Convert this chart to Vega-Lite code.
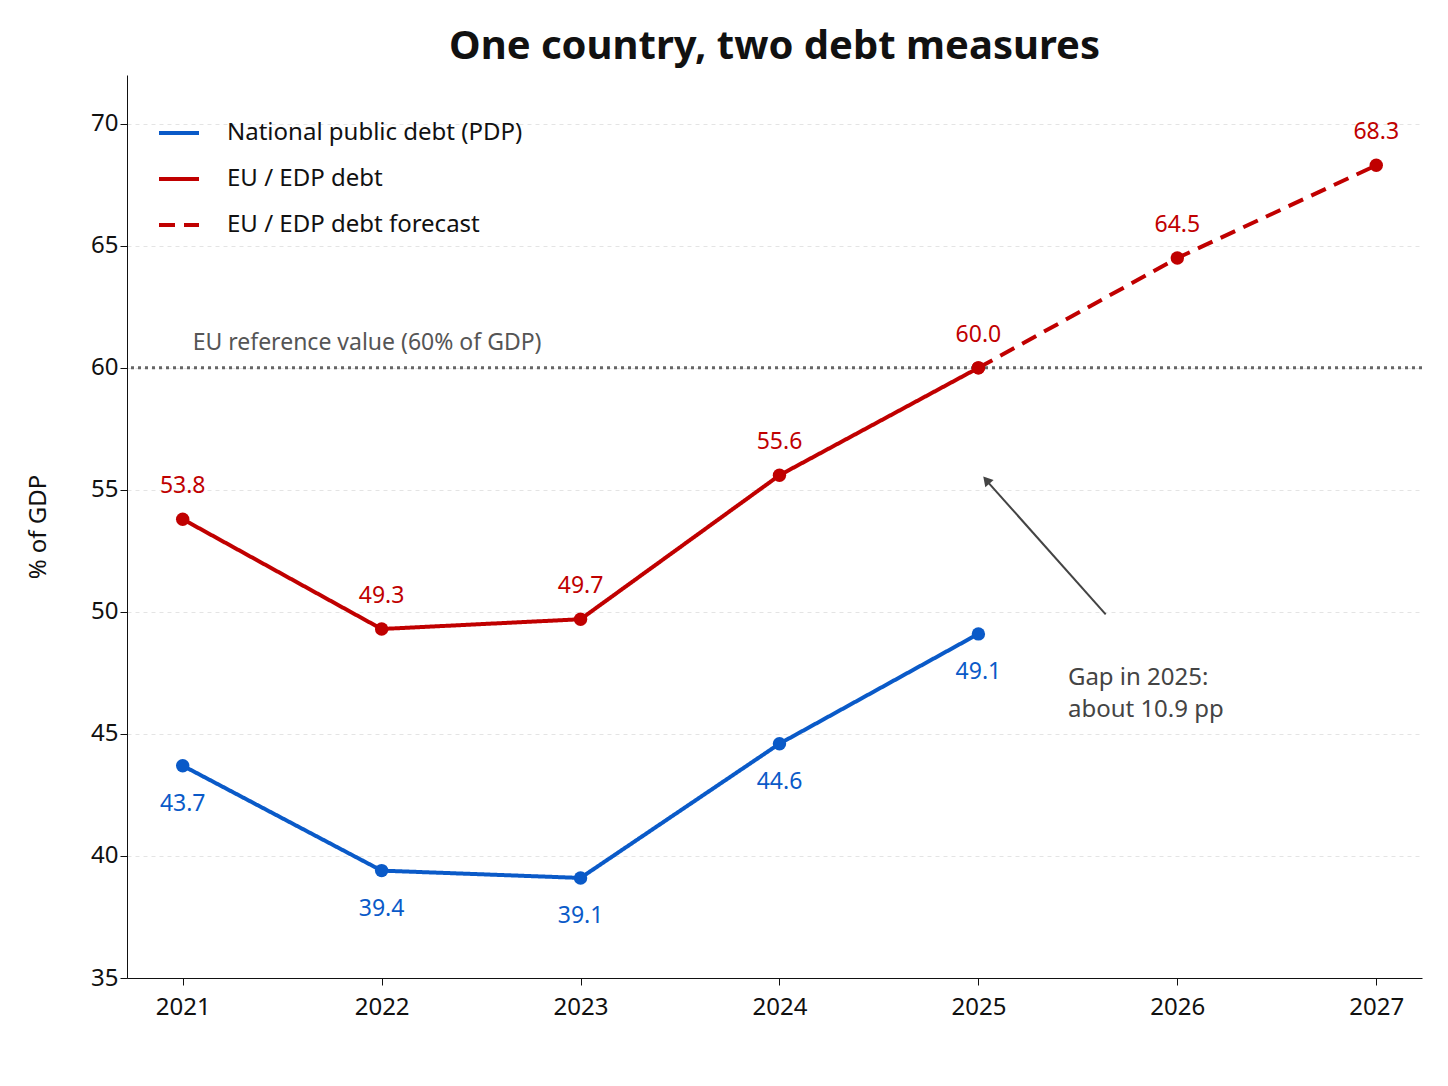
{
  "$schema": "https://vega.github.io/schema/vega-lite/v6.json",
  "autosize": "none",
  "width": 1295,
  "height": 903,
  "padding": {"left": 127, "top": 75, "right": 26, "bottom": 108},
  "background": "white",
  "title": {"text": "One country, two debt measures", "fontSize": 40, "font": "Noto Sans", "fontWeight": "bold", "offset": 8, "color": "#111"},
  "config": {
    "font": "Noto Sans",
    "view": {"stroke": null},
    "axis": {"labelFontSize": 24, "labelColor": "#111", "titleFontSize": 24, "titleColor": "#111", "domainColor": "#111", "tickColor": "#111", "titleFontWeight": "normal"}
  },
  "datasets": {
    "lines": [
      {"x": 2021, "y": 43.7, "series": "National public debt (PDP)"},
      {"x": 2022, "y": 39.4, "series": "National public debt (PDP)"},
      {"x": 2023, "y": 39.1, "series": "National public debt (PDP)"},
      {"x": 2024, "y": 44.6, "series": "National public debt (PDP)"},
      {"x": 2025, "y": 49.1, "series": "National public debt (PDP)"},
      {"x": 2021, "y": 53.8, "series": "EU / EDP debt"},
      {"x": 2022, "y": 49.3, "series": "EU / EDP debt"},
      {"x": 2023, "y": 49.7, "series": "EU / EDP debt"},
      {"x": 2024, "y": 55.6, "series": "EU / EDP debt"},
      {"x": 2025, "y": 60.0, "series": "EU / EDP debt"},
      {"x": 2025, "y": 60.0, "series": "EU / EDP debt forecast"},
      {"x": 2026, "y": 64.5, "series": "EU / EDP debt forecast"},
      {"x": 2027, "y": 68.3, "series": "EU / EDP debt forecast"}
    ],
    "arrow": [
      {"x": 2025.64, "y": 49.9},
      {"x": 2025.05, "y": 55.3}
    ]
  },
  "encoding": {
    "x": {"field": "x", "type": "quantitative", "scale": {"domain": [2020.72, 2027.23], "nice": false, "zero": false},
      "axis": {"values": [2021, 2022, 2023, 2024, 2025, 2026, 2027], "format": "d", "title": null, "grid": false, "labelPadding": 10, "tickSize": 7}},
    "y": {"field": "y", "type": "quantitative", "scale": {"domain": [35, 72], "nice": false, "zero": false},
      "axis": {"values": [35, 40, 45, 50, 55, 60, 65, 70], "title": "% of GDP", "titlePadding": 40, "grid": true, "gridDash": [4, 4], "gridColor": "#e4e4e4", "tickSize": 7}}
  },
  "layer": [
    {
      "data": {"values": [{"y": 60}]},
      "mark": {"type": "rule", "color": "#666", "strokeDash": [3, 4], "strokeWidth": 3},
      "encoding": {"x": null}
    },
    {
      "data": {"values": [{"x": 2021.05, "y": 61, "t": "EU reference value (60% of GDP)"}]},
      "mark": {"type": "text", "align": "left", "baseline": "middle", "fontSize": 23, "color": "#555"},
      "encoding": {"text": {"field": "t"}}
    },
    {
      "data": {"name": "lines"},
      "mark": {"type": "line", "strokeWidth": 4},
      "encoding": {
        "color": {"field": "series", "type": "nominal",
          "scale": {"domain": ["National public debt (PDP)", "EU / EDP debt", "EU / EDP debt forecast"], "range": ["#0a5ac8", "#c00000", "#c00000"]},
          "legend": {"title": null, "orient": "none", "legendX": 30, "legendY": 36, "labelFontSize": 24, "labelColor": "#111", "labelLimit": 500, "rowPadding": 12, "symbolType": "stroke", "symbolSize": 1600, "symbolStrokeWidth": 4, "labelOffset": 26}},
        "strokeDash": {"field": "series", "type": "nominal",
          "scale": {"domain": ["National public debt (PDP)", "EU / EDP debt", "EU / EDP debt forecast"], "range": [[1, 0], [1, 0], [16, 9]]}}
      }
    },
    {
      "data": {"name": "lines"},
      "mark": {"type": "point", "filled": true, "size": 180, "opacity": 1},
      "encoding": {
        "color": {"field": "series", "type": "nominal", "legend": null}
      }
    },
    {
      "data": {"name": "lines"},
      "transform": [{"filter": "datum.series != 'National public debt (PDP)'"},
        {"filter": "!(datum.series == 'EU / EDP debt forecast' && datum.x == 2025)"}],
      "mark": {"type": "text", "dy": -33, "fontSize": 23, "color": "#c00000"},
      "encoding": {"text": {"field": "y", "format": ".1f"}}
    },
    {
      "data": {"name": "lines"},
      "transform": [{"filter": "datum.series == 'National public debt (PDP)'"}],
      "mark": {"type": "text", "dy": 38, "fontSize": 23, "color": "#0a5ac8"},
      "encoding": {"text": {"field": "y", "format": ".1f"}}
    },
    {
      "data": {"name": "arrow"},
      "mark": {"type": "line", "color": "#444", "strokeWidth": 2},
      "encoding": {}
    },
    {
      "data": {"values": [{"x": 2025.04, "y": 55.4}]},
      "mark": {"type": "point", "shape": "triangle-up", "filled": true, "color": "#444", "size": 120, "angle": -41, "opacity": 1},
      "encoding": {}
    },
    {
      "data": {"values": [{"x": 2025.45, "y": 47.3, "t": ["Gap in 2025:", "about 10.9 pp"]}]},
      "mark": {"type": "text", "align": "left", "baseline": "middle", "fontSize": 24, "color": "#444", "lineHeight": 32},
      "encoding": {"text": {"field": "t"}}
    }
  ]
}
